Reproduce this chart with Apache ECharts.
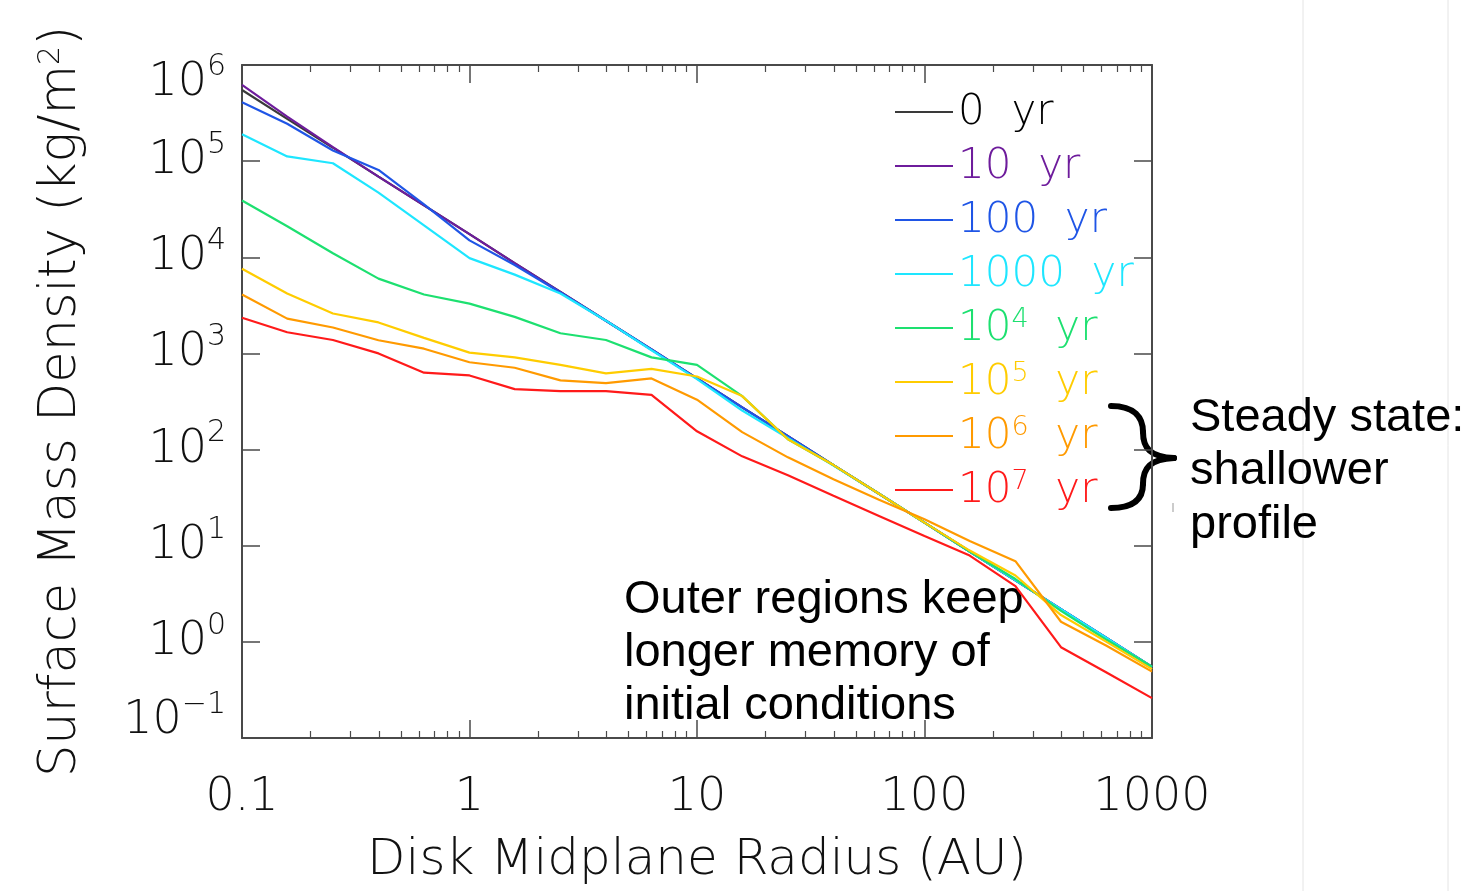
<!DOCTYPE html>
<html>
<head>
<meta charset="utf-8">
<script src="https://cdn.jsdelivr.net/npm/echarts@6/dist/echarts.min.js"></script>
<style>
html,body{margin:0;padding:0;background:#fff;}
#chart{width:1470px;height:891px;}
</style>
</head>
<body>
<div id="chart"></div>
<script>
// ---- data ----
const radiusAU = [0.1, 0.158, 0.251, 0.398, 0.631, 1, 1.58, 2.51, 3.98, 6.31, 10, 15.8, 25.1, 39.8, 63.1, 100, 158, 251, 398, 631, 1000];

const sigma0yr   = [5.5e5, 2.75e5, 1.38e5, 6.9e4, 3.47e4, 1.74e4, 8.7e3, 4.37e3, 2.19e3, 1.10e3, 550, 275, 138, 69, 34.7, 17.4, 8.7, 4.37, 2.19, 1.10, 0.55];
const sigma10yr  = [6.2e5, 2.9e5, 1.4e5, 6.9e4, 3.47e4, 1.74e4, 8.7e3, 4.37e3, 2.19e3, 1.10e3, 550, 275, 138, 69, 34.7, 17.4, 8.7, 4.37, 2.19, 1.10, 0.55];
const sigma100yr = [4.1e5, 2.45e5, 1.29e5, 8.1e4, 3.55e4, 1.5e4, 8.3e3, 4.3e3, 2.19e3, 1.10e3, 550, 275, 138, 69, 34.7, 17.4, 8.7, 4.37, 2.19, 1.10, 0.55];
const sigma1e3yr = [1.9e5, 1.12e5, 9.5e4, 4.7e4, 2.15e4, 9.8e3, 6.6e3, 4.2e3, 2.19e3, 1.08e3, 540, 255, 132, 68, 34.7, 17.4, 8.7, 4.37, 2.19, 1.10, 0.55];
const sigma1e4yr = [3.9e4, 2.1e4, 1.1e4, 6.0e3, 4.1e3, 3.3e3, 2.4e3, 1.62e3, 1.38e3, 910, 760, 360, 128, 69, 34.7, 17.4, 8.7, 4.5, 2.1, 1.05, 0.55];
const sigma1e5yr = [7.6e3, 4.2e3, 2.6e3, 2.1e3, 1.45e3, 1.02e3, 910, 760, 620, 690, 575, 360, 128, 69, 34.7, 17.4, 8.9, 4.9, 1.9, 1.0, 0.52];
const sigma1e6yr = [4.1e3, 2.3e3, 1.86e3, 1.37e3, 1.12e3, 810, 710, 525, 490, 550, 330, 152, 83, 49, 30, 18.8, 11.2, 6.9, 1.62, 0.91, 0.49];
const sigma1e7yr = [2.35e3, 1.66e3, 1.38e3, 1.0e3, 630, 590, 425, 405, 405, 370, 155, 85, 54, 33, 20.4, 12.6, 7.9, 3.8, 0.88, 0.48, 0.26];

const seriesNames = ['0 yr', '10 yr', '100 yr', '1000 yr', '10^4 yr', '10^5 yr', '10^6 yr', '10^7 yr'];
const legendBase  = ['0', '10', '100', '1000', '10', '10', '10', '10'];
const legendExp   = ['', '', '', '', '4', '5', '6', '7'];
const seriesColors = ['#3a3a3a', '#6e1c9c', '#1f55e6', '#1ee6ff', '#1de070', '#ffcc00', '#ff9a00', '#ff1a1a'];
const legendTextColors = ['#000000', '#6e1c9c', '#1f55e6', '#1ee6ff', '#1de070', '#ffcc00', '#ff9a00', '#ff1a1a'];
const allSigma = [sigma0yr, sigma10yr, sigma100yr, sigma1e3yr, sigma1e4yr, sigma1e5yr, sigma1e6yr, sigma1e7yr];

const xTickValues = [0.1, 1, 10, 100, 1000];
const xTickLabels = ['0.1', '1', '10', '100', '1000'];
const xMinorTicks = [0.2,0.3,0.4,0.5,0.6,0.7,0.8,0.9, 2,3,4,5,6,7,8,9, 20,30,40,50,60,70,80,90, 200,300,400,500,600,700,800,900];
const yTickValues = [0.1, 1, 10, 100, 1000, 1e4, 1e5, 1e6];
const yTickExps   = ['\u22121', '0', '1', '2', '3', '4', '5', '6'];

// ---- chart ----
const FONT = 'DejaVu Sans';
const AXIS_COLOR = '#4a4a4a';

function nearestIndex(arr, v) {
  let best = 0;
  for (let i = 0; i < arr.length; i++) {
    if (Math.abs(Math.log10(arr[i]) - Math.log10(v)) < Math.abs(Math.log10(arr[best]) - Math.log10(v))) best = i;
  }
  return best;
}
function xLabel(v) { return xTickLabels[nearestIndex(xTickValues, v)]; }
function yLabel(v) {
  const best = nearestIndex(yTickValues, v);
  const e = yTickExps[best];
  if (best === yTickValues.length - 1) return '{bt|10}{st|' + e + '}';
  if (best === 0) return '{bb|10}{sb|' + e + '}';
  return '{b|10}{s|' + e + '}';
}

const baseAxis = { type: 'log', logBase: 10, gridIndex: 0 };

const xAxes = [
  Object.assign({}, baseAxis, {
    position: 'bottom', min: 0.1, max: 1000,
    axisLine: { show: true, lineStyle: { color: AXIS_COLOR, width: 2 } },
    axisTick: { show: true, inside: true, length: 18, customValues: xTickValues, lineStyle: { color: AXIS_COLOR, width: 1.5 } },
    axisLabel: { show: true, customValues: xTickValues, formatter: xLabel, margin: 37,
      fontFamily: FONT, fontWeight: 200, fontSize: 46, color: '#111' },
    splitLine: { show: false },
    name: 'Disk Midplane Radius (AU)', nameLocation: 'middle', nameGap: 98,
    nameTextStyle: { fontFamily: FONT, fontWeight: 200, fontSize: 50, color: '#111' }
  }),
  Object.assign({}, baseAxis, {
    position: 'bottom', min: 0.1, max: 1000,
    axisLine: { show: false },
    axisTick: { show: true, inside: true, length: 7, customValues: xMinorTicks, lineStyle: { color: AXIS_COLOR, width: 1.2 } },
    axisLabel: { show: false }, splitLine: { show: false }
  }),
  Object.assign({}, baseAxis, {
    position: 'top', min: 0.1, max: 1000,
    axisLine: { show: true, lineStyle: { color: AXIS_COLOR, width: 2 } },
    axisTick: { show: true, inside: true, length: 18, customValues: xTickValues, lineStyle: { color: AXIS_COLOR, width: 1.5 } },
    axisLabel: { show: false }, splitLine: { show: false }
  }),
  Object.assign({}, baseAxis, {
    position: 'top', min: 0.1, max: 1000,
    axisLine: { show: false },
    axisTick: { show: true, inside: true, length: 7, customValues: xMinorTicks, lineStyle: { color: AXIS_COLOR, width: 1.2 } },
    axisLabel: { show: false }, splitLine: { show: false }
  })
];

const labelRich = {
  b:  { fontFamily: FONT, fontWeight: 200, fontSize: 46, lineHeight: 62, color: '#111', verticalAlign: 'top', padding: [8, 0, 0, 0] },
  s:  { fontFamily: FONT, fontWeight: 200, fontSize: 30, lineHeight: 30, color: '#111', verticalAlign: 'top' },
  bt: { fontFamily: FONT, fontWeight: 200, fontSize: 46, lineHeight: 26, color: '#111', verticalAlign: 'top', padding: [8, 0, 0, 0] },
  st: { fontFamily: FONT, fontWeight: 200, fontSize: 30, lineHeight: 26, color: '#111', verticalAlign: 'top' },
  bb: { fontFamily: FONT, fontWeight: 200, fontSize: 46, lineHeight: 96, color: '#111', verticalAlign: 'top', padding: [8, 0, 0, 0] },
  sb: { fontFamily: FONT, fontWeight: 200, fontSize: 30, lineHeight: 30, color: '#111', verticalAlign: 'top' }
};

const yAxes = [
  Object.assign({}, baseAxis, {
    position: 'left', min: 0.1, max: 1e6,
    axisLine: { show: true, lineStyle: { color: AXIS_COLOR, width: 2 } },
    axisTick: { show: true, inside: true, length: 18, customValues: yTickValues, lineStyle: { color: AXIS_COLOR, width: 1.5 } },
    axisLabel: { show: true, customValues: yTickValues, formatter: yLabel, margin: 16, rich: labelRich },
    splitLine: { show: false },
    name: 'Surface Mass Density (kg/m{sup|2})', nameLocation: 'middle', nameGap: 155, nameRotate: 90,
    nameTextStyle: { fontFamily: FONT, fontWeight: 200, fontSize: 51, color: '#111',
      rich: { sup: { fontFamily: FONT, fontWeight: 200, fontSize: 30, lineHeight: 28, verticalAlign: 'top', color: '#111' } } }
  }),
  Object.assign({}, baseAxis, {
    position: 'right', min: 0.1, max: 1e6,
    axisLine: { show: true, lineStyle: { color: AXIS_COLOR, width: 2 } },
    axisTick: { show: true, inside: true, length: 18, customValues: yTickValues, lineStyle: { color: AXIS_COLOR, width: 1.5 } },
    axisLabel: { show: false }, splitLine: { show: false }
  })
];

const series = seriesNames.map((name, i) => ({
  name: name,
  type: 'line',
  xAxisIndex: 0, yAxisIndex: 0,
  symbol: 'none',
  smooth: false,
  data: radiusAU.map((r, j) => [r, allSigma[i][j]]),
  lineStyle: { color: seriesColors[i], width: 2.2 },
  itemStyle: { color: seriesColors[i] },
  emphasis: { disabled: true }
}));

const legendRich = {
  b: { fontFamily: FONT, fontWeight: 200, fontSize: 42, lineHeight: 44, verticalAlign: 'top', padding: [2, 0, 0, 0] },
  s: { fontFamily: FONT, fontWeight: 200, fontSize: 27, lineHeight: 27, verticalAlign: 'top' }
};

const legendData = seriesNames.map((name, i) => ({
  name: name,
  textStyle: { color: legendTextColors[i] }
}));

const braceStyle = { stroke: '#000', lineWidth: 6, fill: null, lineCap: 'round' };

const chart = echarts.init(document.getElementById('chart'), null, { renderer: 'canvas' });
chart.setOption({
  animation: false,
  backgroundColor: '#ffffff',
  grid: { left: 242, top: 65, width: 910, height: 674, containLabel: false },
  xAxis: xAxes,
  yAxis: yAxes,
  legend: {
    show: true, orient: 'vertical', left: 890, top: 85,
    icon: 'rect', itemWidth: 58, itemHeight: 2, itemGap: 10,
    selectedMode: false,
    data: legendData,
    formatter: function (name) {
      const i = seriesNames.indexOf(name);
      if (legendExp[i]) return '{b|' + legendBase[i] + '}{s|' + legendExp[i] + '}{b|  yr}';
      return '{b|' + legendBase[i] + '  yr}';
    },
    textStyle: { fontFamily: FONT, fontWeight: 200, fontSize: 42, rich: legendRich }
  },
  series: series,
  graphic: [
    { type: 'line', shape: { x1: 1303, y1: 0, x2: 1303, y2: 891 }, style: { stroke: '#e4e4e4', lineWidth: 1 }, silent: true },
    { type: 'line', shape: { x1: 1448, y1: 0, x2: 1448, y2: 891 }, style: { stroke: '#e4e4e4', lineWidth: 1 }, silent: true },
    { type: 'line', shape: { x1: 1173, y1: 503, x2: 1173, y2: 512 }, style: { stroke: '#999', lineWidth: 1 }, silent: true },
    { type: 'bezierCurve', shape: { x1: 1111, y1: 406, cpx1: 1135, cpy1: 406, cpx2: 1143, cpy2: 418, x2: 1143, y2: 432 }, style: braceStyle, silent: true },
    { type: 'bezierCurve', shape: { x1: 1143, y1: 432, cpx1: 1143, cpy1: 448, cpx2: 1150, cpy2: 457, x2: 1174, y2: 458 }, style: braceStyle, silent: true },
    { type: 'bezierCurve', shape: { x1: 1174, y1: 458, cpx1: 1150, cpy1: 459, cpx2: 1143, cpy2: 468, x2: 1143, y2: 484 }, style: braceStyle, silent: true },
    { type: 'bezierCurve', shape: { x1: 1143, y1: 484, cpx1: 1143, cpy1: 498, cpx2: 1135, cpy2: 508, x2: 1111, y2: 508 }, style: braceStyle, silent: true },
    { type: 'text', x: 624, y: 574, silent: true,
      style: { text: 'Outer regions keep\nlonger memory of\ninitial conditions', fontFamily: 'Liberation Sans', fontSize: 47, lineHeight: 53, fill: '#000', align: 'left', verticalAlign: 'top' } },
    { type: 'text', x: 1190, y: 391, silent: true,
      style: { text: 'Steady state:\nshallower\nprofile', fontFamily: 'Liberation Sans', fontSize: 47, lineHeight: 53.5, fill: '#000', align: 'left', verticalAlign: 'top' } }
  ]
});
</script>
</body>
</html>
